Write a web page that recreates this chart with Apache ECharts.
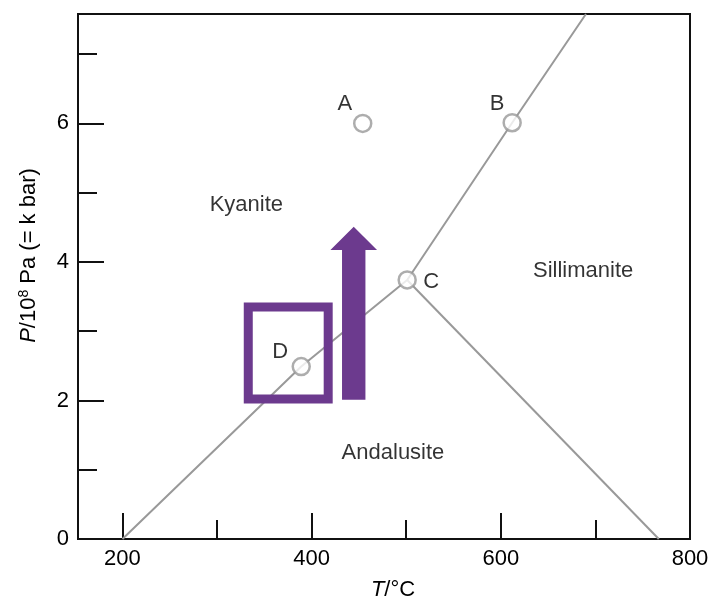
<!DOCTYPE html>
<html>
<head>
<meta charset="utf-8">
<script src="https://cdn.jsdelivr.net/npm/echarts@6/dist/echarts.min.js"></script>
<style>
html,body{margin:0;padding:0;background:#fff;}
#chart{width:720px;height:600px;}
</style>
</head>
<body>
<div id="chart"></div>
<script>
// ---- data ----
const xRange = [153, 800];
const yRange = [0, 7.58];
const xMajorTicks = [200, 400, 600];
const xMinorTicks = [300, 500, 700];
const xTickLabels = [200, 400, 600, 800];
const yMajorTicks = [2, 4, 6];
const yMinorTicks = [1, 3, 5, 7];
const yTickLabels = [0, 2, 4, 6];

const kyaniteAndalusite = [[200, 0], [389, 2.49], [501, 3.74]];
const kyaniteSillimanite = [[501, 3.74], [612, 6.01], [690, 7.58]];
const andalusiteSillimanite = [[501, 3.74], [767, 0]];

const pointNames = ['A', 'B', 'C', 'D'];
const pointValues = [[454, 6.0], [612, 6.01], [501, 3.74], [389, 2.49]];

const regionNames = ['Kyanite', 'Sillimanite', 'Andalusite'];
const regionPositions = [[331, 4.82], [687, 3.87], [486, 1.24]];

const squareBox = [[333, 2.02, 417.5, 3.35]];
const arrowData = [[444.5, 2.01, 4.51]];

// ---- styles ----
const FONT = "'Liberation Sans', Arial, sans-serif";
const TEXT = '#000';
const GREY = '#999';
const PURPLE = '#6c3a8e';
const labelOffsets = { A: [-18, -19], B: [-15, -19], C: [24, 2], D: [-21, -15] };

const chart = echarts.init(document.getElementById('chart'));

function xAxisCfg(major) {
  return {
    type: 'value', min: xRange[0], max: xRange[1], position: 'bottom', gridIndex: 0,
    axisLine: { show: major, onZero: false, lineStyle: { color: '#111', width: 2 } },
    axisTick: { show: true, inside: true, length: major ? 26 : 19,
      customValues: major ? xMajorTicks : xMinorTicks, lineStyle: { color: '#111', width: 2 } },
    axisLabel: { show: major, customValues: xTickLabels, margin: 9,
      fontSize: 22, fontFamily: FONT, color: TEXT },
    splitLine: { show: false },
    name: major ? '{i|T}/°C' : '', nameLocation: 'middle', nameGap: 40,
    nameTextStyle: { fontSize: 22, fontFamily: FONT, color: TEXT, padding: [0, 0, 0, 18],
      rich: { i: { fontStyle: 'italic', fontSize: 22, fontFamily: FONT, color: TEXT } } }
  };
}
function yAxisCfg(major) {
  return {
    type: 'value', min: yRange[0], max: yRange[1], position: 'left', gridIndex: 0,
    axisLine: { show: major, onZero: false, lineStyle: { color: '#111', width: 2 } },
    axisTick: { show: true, inside: true, length: major ? 26 : 19,
      customValues: major ? yMajorTicks : yMinorTicks, lineStyle: { color: '#111', width: 2 } },
    axisLabel: { show: major, customValues: yTickLabels, margin: 9,
      fontSize: 22, fontFamily: FONT, color: TEXT },
    splitLine: { show: false },
    name: major ? '{i|P}/10{s|8} Pa (= k bar)' : '', nameLocation: 'middle', nameGap: 38,
    nameTextStyle: { fontSize: 22, fontFamily: FONT, color: TEXT, padding: [0, 0, 0, 42],
      rich: {
        i: { fontStyle: 'italic', fontSize: 22, fontFamily: FONT, color: TEXT },
        s: { fontSize: 14, fontFamily: FONT, color: TEXT, padding: [0, 0, 9, 0] }
      } }
  };
}

const lineStyle = { color: GREY, width: 2 };

const option = {
  animation: false,
  backgroundColor: '#fff',
  grid: { left: 78, right: 30, top: 14, bottom: 61, show: true, containLabel: false,
    outerBoundsMode: 'none',
    borderColor: '#111', borderWidth: 2, backgroundColor: 'transparent' },
  xAxis: [xAxisCfg(true), xAxisCfg(false)],
  yAxis: [yAxisCfg(true), yAxisCfg(false)],
  series: [
    { type: 'line', data: kyaniteAndalusite, symbol: 'none', lineStyle, z: 2, silent: true },
    { type: 'line', data: kyaniteSillimanite, symbol: 'none', lineStyle, z: 2, silent: true },
    { type: 'line', data: andalusiteSillimanite, symbol: 'none', lineStyle, z: 2, silent: true },
    {
      type: 'custom', z: 3, data: squareBox, encode: { x: [0, 2], y: [1, 3] },
      renderItem(params, api) {
        const p1 = api.coord([api.value(0), api.value(3)]);
        const p2 = api.coord([api.value(2), api.value(1)]);
        return { type: 'rect', shape: { x: p1[0], y: p1[1], width: p2[0] - p1[0], height: p2[1] - p1[1] },
          style: { fill: 'none', stroke: PURPLE, lineWidth: 9, lineJoin: 'miter' } };
      }
    },
    {
      type: 'custom', z: 3, data: arrowData, encode: { x: 0, y: [1, 2] },
      renderItem(params, api) {
        const base = api.coord([api.value(0), api.value(1)]);
        const tip = api.coord([api.value(0), api.value(2)]);
        const x = base[0], sw = 11.7, hw = 23.3, hl = 23.3;
        const hb = tip[1] + hl;
        return { type: 'polygon', shape: { points: [
          [x - sw, base[1]], [x + sw, base[1]], [x + sw, hb], [x + hw, hb],
          [x, tip[1]], [x - hw, hb], [x - sw, hb]] },
          style: { fill: PURPLE } };
      }
    },
    {
      type: 'scatter', z: 4, symbol: 'circle', symbolSize: 17,
      itemStyle: { color: '#fff', borderColor: GREY, borderWidth: 2.5 },
      data: pointNames.map((n, i) => ({ name: n, value: pointValues[i],
        label: { show: true, position: 'inside', offset: labelOffsets[n], formatter: '{b}',
          fontSize: 22, fontFamily: FONT, color: TEXT } }))
    },
    {
      type: 'scatter', z: 4, symbol: 'circle', symbolSize: 1,
      itemStyle: { color: 'rgba(0,0,0,0)' },
      data: regionNames.map((n, i) => ({ name: n, value: regionPositions[i] })),
      label: { show: true, position: 'inside', formatter: '{b}', fontSize: 22, fontFamily: FONT, color: TEXT }
    }
  ]
};
chart.setOption(option);
</script>
</body>
</html>
